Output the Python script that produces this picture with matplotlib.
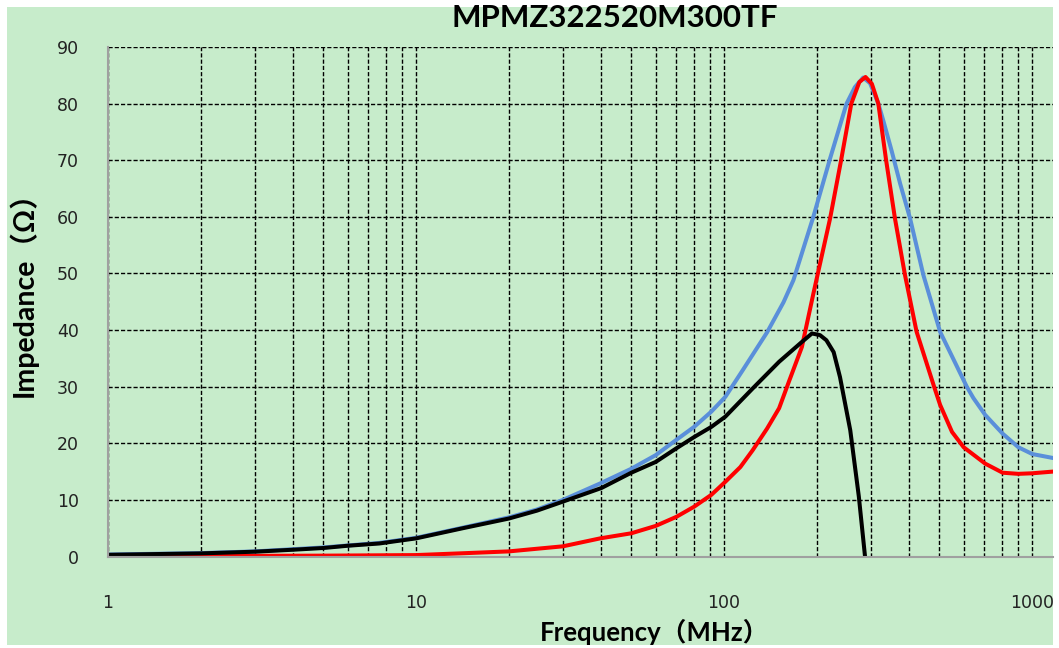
import numpy as np
import matplotlib.pyplot as plt
from matplotlib.patches import Rectangle
from matplotlib.ticker import FixedLocator, NullFormatter

# values (frequency in MHz, impedance in ohm)
z_freq = [1, 2, 3, 5, 7.6, 10, 14.2, 20, 24.7, 30, 39.6, 50, 60, 70, 80, 91, 101,
          115, 138, 156, 168, 195, 221, 250, 266, 283, 298, 317, 329, 350, 373,
          402, 444, 503, 614, 645, 705, 803, 903, 1002, 1170]
z_vals = [0.35, 0.6, 0.9, 1.6, 2.4, 3.3, 5.1, 6.9, 8.3, 10.0, 12.9, 15.5, 17.9,
          20.6, 22.9, 25.6, 28.2, 32.9, 39.6, 44.9, 48.8, 60.0, 70.3, 80.0, 82.9,
          84.6, 83.6, 80.0, 77.0, 71.7, 65.9, 59.7, 49.7, 39.7, 30.0, 28.0, 25.0,
          21.7, 19.3, 18.1, 17.4]

r_freq = [1, 2, 5, 10, 14.6, 20, 30, 39.6, 50, 60, 70, 80, 91, 101, 113, 124,
          138, 151, 163, 179, 195, 221, 240, 259, 275, 288, 302, 317, 336, 359,
          387, 422, 481, 503, 550, 600, 705, 803, 903, 1002, 1170]
r_vals = [0.05, 0.1, 0.15, 0.25, 0.6, 0.9, 1.8, 3.2, 4.1, 5.4, 7.0, 8.8, 10.9,
          13.2, 15.8, 18.8, 22.6, 26.2, 31.1, 37.0, 46.4, 59.7, 70.0, 80.0, 83.8,
          84.7, 83.5, 80.0, 70.0, 59.7, 49.7, 39.7, 30.0, 26.8, 22.0, 19.3, 16.4,
          14.8, 14.6, 14.7, 15.0]

x_freq = [1, 2, 3, 4, 5, 6, 7.6, 10, 14.2, 20, 24.7, 30, 40, 50, 60, 70, 80, 91,
          101, 124, 151, 179, 193, 205, 215, 227, 238, 257, 274, 287, 300]
x_vals = [0.3, 0.55, 0.85, 1.2, 1.5, 1.9, 2.3, 3.2, 5.0, 6.7, 8.1, 9.7, 12.1,
          14.8, 16.7, 19.1, 21.1, 22.9, 24.7, 29.7, 34.4, 37.9, 39.4, 39.1, 38.2,
          36.1, 31.7, 22.3, 10.6, 0.0, -10.0]

x_ticks = [1, 10, 100, 1000]
y_ticks = [0, 10, 20, 30, 40, 50, 60, 70, 80, 90]

title = "MPMZ322520M300TF"
xlabel = "Frequency（MHz）"
ylabel = "Impedance（Ω）"

green = "#C7ECCB"
W, H = 1059, 648

fig = plt.figure(figsize=(W / 100, H / 100), dpi=100)
fig.patch.set_facecolor("white")
fig.patches.append(Rectangle((7 / W, 3 / H), (1053 - 7) / W, (643 - 5) / H,
                             transform=fig.transFigure, facecolor=green,
                             edgecolor="none", zorder=-5))

ax = fig.add_axes([108 / W, 1 - 556.5 / H, (1053 - 108) / W, (556.5 - 47) / H])
ax.set_zorder(2)
ax.set_facecolor(green)

ax.plot(z_freq, z_vals, color="#5A8FDA", lw=2.9, zorder=3)
ax.plot(r_freq, r_vals, color="#FF0000", lw=2.9, zorder=4)
ax.plot(x_freq, x_vals, color="#000000", lw=2.9, zorder=5)

ax.set_xscale("log")
ax.set_xlim(1, 10 ** ((1053 - 108) / 308))
ax.set_ylim(0, 90)

ax.xaxis.set_major_locator(FixedLocator(x_ticks))
ax.set_xticklabels([str(t) for t in x_ticks])
ax.xaxis.set_minor_formatter(NullFormatter())
ax.set_yticks(y_ticks)

ax.grid(which="both", axis="x", color="black", lw=1.0, linestyle=(0, (3, 1.5)))
ax.grid(which="major", axis="y", color="black", lw=1.0, linestyle=(0, (3, 1.5)))
ax.set_axisbelow(True)

ax.tick_params(which="both", length=0, labelsize=12.5, colors="#222222")
ax.tick_params(axis="y", pad=21)
ax.tick_params(axis="x", pad=27)

for s in ["top", "right"]:
    ax.spines[s].set_visible(False)
for s in ["left", "bottom"]:
    ax.spines[s].set_color("#A0A0A0")
    ax.spines[s].set_linewidth(1.5)
    ax.spines[s].set_zorder(6)

fam = ["Lato", "Noto Sans CJK SC", "DejaVu Sans"]
fig.text(615 / W, 1 - 18 / H, title, ha="center", va="center",
         fontsize=22.5, fontweight="bold", family=fam)
fig.text(655 / W, 1 - 641 / H, xlabel, ha="center", va="baseline",
         fontsize=18.5, fontweight="bold", family=fam)
fig.text(23 / W, 1 - 287 / H, ylabel, ha="center", va="center", rotation=90,
         fontsize=20.5, fontweight="bold", family=fam)

fig.savefig("out.png", dpi=100, facecolor="white")
